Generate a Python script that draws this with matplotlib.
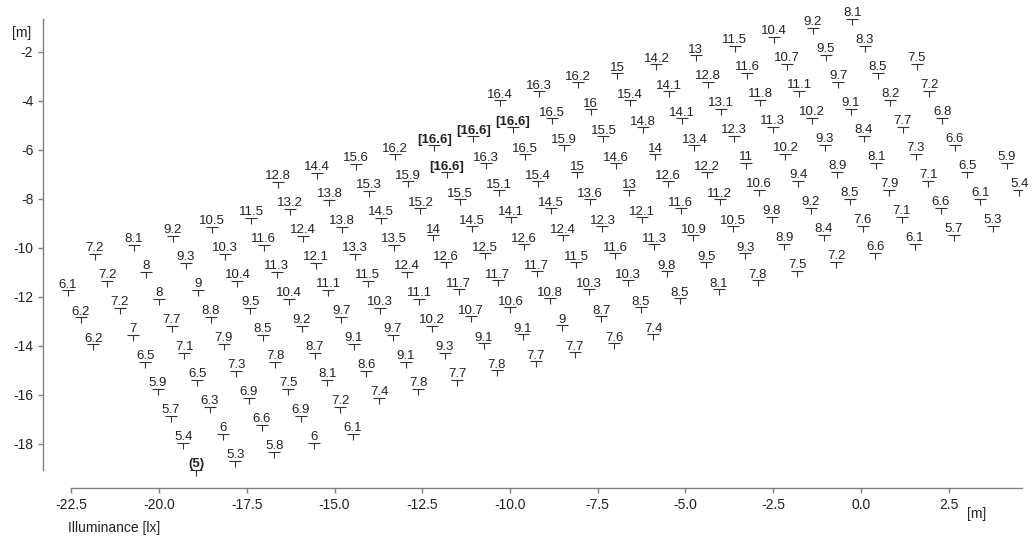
import numpy as np
import matplotlib
matplotlib.use('Agg')
import matplotlib.pyplot as plt
from matplotlib.path import Path

plt.rcParams['font.family'] = ['Liberation Sans', 'DejaVu Sans']

# Measurement grid: rotated lattice, values in lx
# origin of the grid (point of row 0, column 0) in m
grid_x0 = -22.59
grid_y0 = -11.735
# step along a row (column index +1) and along a column (row index +1), in m
step_col = (1.1154, 0.3698)
step_row = (0.3618, -1.1020)

# (row index, first column index, values)
row_index = [-3, -2, -1, 0, 1, 2, 3, 4, 5, 6, 7]
row_start = [12, 6, 1, 0, 0, 0, 1, 1, 1, 1, 1]
row_values = [
    [16.4, 16.3, 16.2, 15, 14.2, 13, 11.5, 10.4, 9.2, 8.1],
    [12.8, 14.4, 15.6, 16.2, 16.6, 16.6, 16.6, 16.5, 16, 15.4, 14.1, 12.8,
     11.6, 10.7, 9.5, 8.3],
    [7.2, 8.1, 9.2, 10.5, 11.5, 13.2, 13.8, 15.3, 15.9, 16.6, 16.3, 16.5,
     15.9, 15.5, 14.8, 14.1, 13.1, 11.8, 11.1, 9.7, 8.5, 7.5],
    [6.1, 7.2, 8, 9.3, 10.3, 11.6, 12.4, 13.8, 14.5, 15.2, 15.5, 15.1, 15.4,
     15, 14.6, 14, 13.4, 12.3, 11.3, 10.2, 9.1, 8.2, 7.2],
    [6.2, 7.2, 8, 9, 10.4, 11.3, 12.1, 13.3, 13.5, 14, 14.5, 14.1, 14.5,
     13.6, 13, 12.6, 12.2, 11, 10.2, 9.3, 8.4, 7.7, 6.8],
    [6.2, 7, 7.7, 8.8, 9.5, 10.4, 11.1, 11.5, 12.4, 12.6, 12.5, 12.6, 12.4,
     12.3, 12.1, 11.6, 11.2, 10.6, 9.4, 8.9, 8.1, 7.3, 6.6],
    [6.5, 7.1, 7.9, 8.5, 9.2, 9.7, 10.3, 11.1, 11.7, 11.7, 11.7, 11.5, 11.6,
     11.3, 10.9, 10.5, 9.8, 9.2, 8.5, 7.9, 7.1, 6.5, 5.9],
    [5.9, 6.5, 7.3, 7.8, 8.7, 9.1, 9.7, 10.2, 10.7, 10.6, 10.8, 10.3, 10.3,
     9.8, 9.5, 9.3, 8.9, 8.4, 7.6, 7.1, 6.6, 6.1, 5.4],
    [5.7, 6.3, 6.9, 7.5, 8.1, 8.6, 9.1, 9.3, 9.1, 9.1, 9, 8.7, 8.5, 8.5,
     8.1, 7.8, 7.5, 7.2, 6.6, 6.1, 5.7, 5.3],
    [5.4, 6, 6.6, 6.9, 7.2, 7.4, 7.8, 7.7, 7.8, 7.7, 7.7, 7.6, 7.4],
    [5, 5.3, 5.8, 6, 6.1],
]

x_ticks = [-22.5, -20.0, -17.5, -15.0, -12.5, -10.0, -7.5, -5.0, -2.5, 0.0, 2.5]
y_ticks = [-2, -4, -6, -8, -10, -12, -14, -16, -18]

# punkte aus dem raster berechnen
xs, ys, vals = [], [], []
for r, c0, vv in zip(row_index, row_start, row_values):
    for k, v in enumerate(vv):
        c = c0 + k
        xs.append(grid_x0 + c * step_col[0] + r * step_row[0])
        ys.append(grid_y0 + c * step_col[1] + r * step_row[1])
        vals.append(v)
xs = np.array(xs)
ys = np.array(ys)
vals = np.array(vals)
vmax = vals.max()
vmin = vals.min()

fig = plt.figure(figsize=(10.32, 5.4), dpi=100)
ax = fig.add_axes([43 / 1032, 52 / 540, 979 / 1032, 469 / 540])
ax.set_xlim(-23.305, 4.587)
ax.set_ylim(-19.816, -0.673)

# marker: kurzer strich mit senkrechtem fuss
tee = Path([(-1, 0), (1, 0), (0, 0), (0, -1)],
           [Path.MOVETO, Path.LINETO, Path.MOVETO, Path.LINETO])
ax.plot(xs, ys, linestyle='none', marker=tee, markersize=8.6,
        markeredgewidth=0.8, color='#333333')

for x, y, v in zip(xs, ys, vals):
    weight = 'normal'
    txt = f'{v:g}'
    if v == vmax:
        txt = f'[{v:g}]'
        weight = 'bold'
    elif v == vmin:
        txt = f'({v:g})'
        weight = 'bold'
    ax.annotate(txt, (x, y), xytext=(0, 1.8), textcoords='offset points',
                ha='center', va='baseline', fontsize=9.5, color='#222222',
                fontweight=weight)

# achsen
for s in ['top', 'right']:
    ax.spines[s].set_visible(False)
ax.spines['left'].set_bounds(-19.08, -0.673)
ax.spines['bottom'].set_bounds(-22.5, 4.587)
for s in ['left', 'bottom']:
    ax.spines[s].set_color('#808080')
    ax.spines[s].set_linewidth(1.0)

ax.set_xticks(x_ticks)
ax.set_xticklabels([f'{t:.1f}' for t in x_ticks])
ax.set_yticks(y_ticks)
ax.set_yticklabels([f'{t:d}' for t in y_ticks])
ax.tick_params(axis='both', colors='#808080', labelcolor='#222222',
               labelsize=10, length=3.5, width=1.0, pad=3.5)

fig.text(22 / 1032, 1 - 33 / 540, '[m]', ha='center', va='center',
         fontsize=10, color='#222222')
fig.text(977 / 1032, 1 - 514 / 540, '[m]', ha='center', va='center',
         fontsize=10, color='#222222')
fig.text(68 / 1032, 1 - 528 / 540, 'Illuminance [lx]', ha='left',
         va='center', fontsize=10, color='#222222')

fig.savefig('out.png', dpi=100)
